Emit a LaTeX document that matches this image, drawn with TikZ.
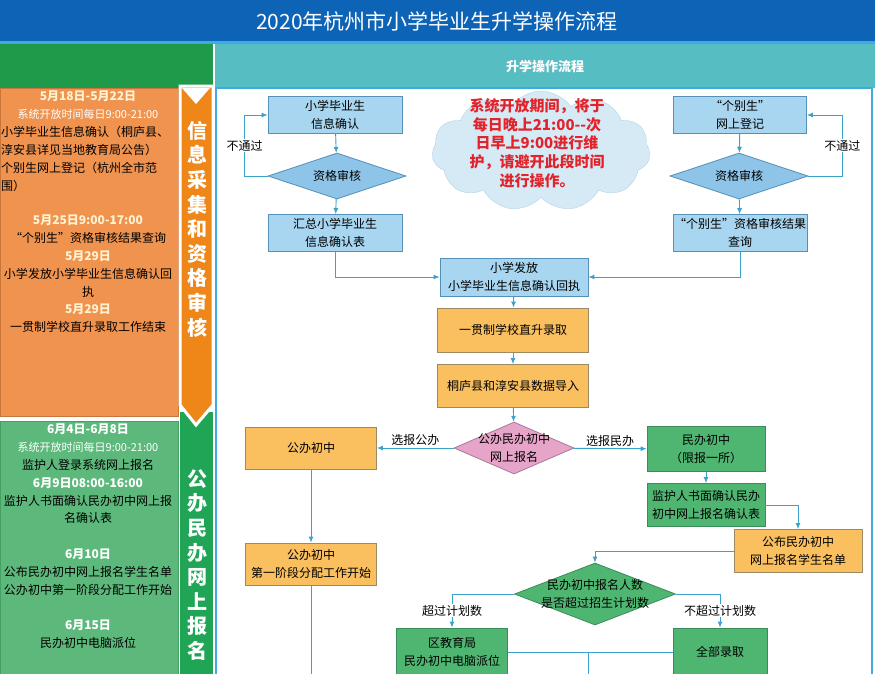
\documentclass[tikz,border=0pt]{standalone}
\usepackage{fontspec}
\setmainfont{Noto Sans CJK SC}
\usepackage{xcolor}
\usepackage{tikz}
\usetikzlibrary{shapes,arrows,arrows.meta,positioning}

\definecolor{titleblue}{HTML}{0D63B5}
\definecolor{headgreen}{HTML}{1F9A4A}
\definecolor{headteal}{HTML}{56BEC3}
\definecolor{frameblue}{HTML}{3FAADF}
\definecolor{panelorange}{HTML}{F0934F}
\definecolor{paneledgeo}{HTML}{C9763A}
\definecolor{striporange}{HTML}{EE8618}
\definecolor{panelgreen}{HTML}{5DB97B}
\definecolor{paneledgeg}{HTML}{46A064}
\definecolor{stripgreen}{HTML}{20A557}
\definecolor{datecol}{HTML}{FFF3D2}
\definecolor{flowline}{HTML}{3AA3CA}
\definecolor{bluefill}{HTML}{A8D5EF}
\definecolor{blueedge}{HTML}{5590B8}
\definecolor{diafill}{HTML}{8DC4E8}
\definecolor{orangefill}{HTML}{FAC05F}
\definecolor{orangeedge}{HTML}{9C8B62}
\definecolor{greenfill}{HTML}{4FB672}
\definecolor{greenedge}{HTML}{3A8C5A}
\definecolor{pinkfill}{HTML}{E6A4C8}
\definecolor{pinkedge}{HTML}{A9789A}
\definecolor{cloudfill}{HTML}{D6EAF6}
\definecolor{cloudedge}{HTML}{B4D3EA}
\definecolor{cloudred}{HTML}{E2232B}

% text of a diamond, kept from growing the shape
\newcommand{\dtext}[1]{\smash{\makebox[0pt]{\raisebox{-4pt}{\begin{tabular}{@{}c@{}}#1\end{tabular}}}}}

\begin{document}
\begin{tikzpicture}[x=1pt, y=-1pt,
    flowbox/.style={rectangle, align=center, inner sep=1pt, line width=0.8pt, font=\fontsize{12}{18}\selectfont},
    bluebox/.style={flowbox, draw=blueedge, fill=bluefill, minimum width=134pt, minimum height=37pt},
    orangebox/.style={flowbox, draw=orangeedge, fill=orangefill},
    greenbox/.style={flowbox, draw=greenedge, fill=greenfill},
    flowdia/.style={diamond, inner sep=0pt, line width=0.8pt, font=\fontsize{12}{18}\selectfont},
    bluedia/.style={flowdia, draw=blueedge, fill=diafill, minimum width=138pt, minimum height=46pt},
    pinkdia/.style={flowdia, draw=pinkedge, fill=pinkfill, minimum width=120pt, minimum height=52pt},
    greendia/.style={flowdia, draw=greenedge, fill=greenfill, minimum width=161pt, minimum height=62pt},
    flowarrow/.style={draw=flowline, line width=0.9pt, -{Latex[length=6pt,width=5pt]}},
    flowlink/.style={draw=flowline, line width=0.9pt},
    passlabel/.style={fill=white, inner sep=1pt, font=\fontsize{12}{14}\selectfont},
    choicelabel/.style={inner sep=2pt, font=\fontsize{12}{14}\selectfont},
    sidetext/.style={align=center, inner sep=0pt, font=\fontsize{12}{17.8}\selectfont},
    striptext/.style={align=center, inner sep=0pt, text=white, font=\bfseries\fontsize{20}{24.6}\selectfont}
]

\useasboundingbox (0,0) rectangle (875,673);
\clip (0,0) rectangle (875,673);

% title and header row
\fill[titleblue] (0,0) rectangle (875,41);
\fill[frameblue] (0,41) rectangle (875,44);
\fill[headgreen] (0,44) rectangle (213,88);
\fill[headteal] (215,44) rectangle (875,88);
\draw[frameblue, line width=2pt, fill=white] (216,88) rectangle (872,690);
\node[text=white, font=\fontsize{21}{24}\selectfont] (title) at (437,21) {2020年杭州市小学毕业生升学操作流程};
\node[text=white, font=\bfseries\fontsize{13}{15}\selectfont] (flow_head) at (545,67) {升学操作流程};

% left column
\draw[fill=panelorange, draw=paneledgeo] (0,88) rectangle (178,416);
\draw[fill=panelgreen, draw=paneledgeg] (0,421) rectangle (178,690);
\fill[stripgreen] (180,412) rectangle (213,690);
\draw[fill=striporange, draw=white, line width=3pt] (180,86) -- (213,86) -- (213,405) -- (196,425) -- (180,405) -- cycle;
\fill[white] (182,88) -- (210,88) -- (196,104) -- cycle;
\node[striptext] (strip_info) at (197,229) {信\\息\\采\\集\\和\\资\\格\\审\\核};
\node[striptext] (strip_sign) at (197,565) {公\\办\\民\\办\\网\\上\\报\\名};

\node[sidetext] (info_dates) at (88,105) {{\bfseries\color{datecol}5月18日-5月22日}\\{\color{white}\fontsize{11}{17.8}\selectfont 系统开放时间每日9:00-21:00}};
\node[sidetext, align=left, anchor=west] (info_items) at (1,159) {小学毕业生信息确认（桐庐县、\\淳安县详见当地教育局公告）\\个别生网上登记（杭州全市范\\围）};
\node[sidetext] (info_more) at (88,274) {{\bfseries\color{datecol}5月25日9:00-17:00}\\“个别生”资格审核结果查询\\{\bfseries\color{datecol}5月29日}\\小学发放小学毕业生信息确认回\\执\\{\bfseries\color{datecol}5月29日}\\一贯制学校直升录取工作结束};

\node[sidetext] (sign_dates) at (88,474) {{\bfseries\color{white}6月4日-6月8日}\\{\color{white}\fontsize{11}{17.8}\selectfont 系统开放时间每日9:00-21:00}\\监护人登录系统网上报名\\{\bfseries\color{white}6月9日08:00-16:00}\\监护人书面确认民办初中网上报\\名确认表};
\node[sidetext] (sign_list) at (88,572) {{\bfseries\color{white}6月10日}\\公布民办初中网上报名学生名单\\公办初中第一阶段分配工作开始};
\node[sidetext] (sign_lottery) at (88,634) {{\bfseries\color{white}6月15日}\\民办初中电脑派位};

% notice cloud
\node[cloud, cloud puffs=11, cloud puff arc=110, aspect=1.85, draw=cloudedge, fill=cloudfill, minimum width=218pt, minimum height=120pt, inner sep=0pt] (notice_cloud) at (541,151) {};
\node[align=center, text=cloudred, font=\bfseries\fontsize{15}{18.7}\selectfont] (notice) at (537,143) {系统开放期间，将于\\每日晚上21:00-{}-次\\日早上9:00进行维\\护，请避开此段时间\\进行操作。};

% flow chart
\node[bluebox] (grad_confirm) at (335,115) {小学毕业生\\信息确认};
\node[bluedia] (grad_check) at (337,176) {\dtext{资格审核}};
\node[bluebox] (grad_table) at (335,233) {汇总小学毕业生\\信息确认表};
\node[bluebox, minimum width=133pt] (special_reg) at (740,115) {“个别生”\\网上登记};
\node[bluedia] (special_check) at (739,176) {\dtext{资格审核}};
\node[bluebox, minimum width=133pt] (special_result) at (740,233) {“个别生”资格审核结果\\查询};
\node[bluebox, minimum width=148pt, minimum height=38pt] (receipt) at (514,277) {小学发放\\小学毕业生信息确认回执};
\node[orangebox, minimum width=151pt, minimum height=44pt] (direct_admit) at (513,330) {一贯制学校直升录取};
\node[orangebox, minimum width=151pt, minimum height=43pt] (data_import) at (513,386) {桐庐县和淳安县数据导入};
\node[pinkdia] (online_sign) at (514,448) {\dtext{公办民办初中\\网上报名}};
\node[orangebox, minimum width=131pt, minimum height=42pt] (public_school) at (311,448) {公办初中};
\node[greenbox, minimum width=118pt, minimum height=45pt] (private_school) at (706,449) {民办初中\\（限报一所）};
\node[greenbox, minimum width=118pt, minimum height=43pt] (guardian_confirm) at (706,505) {监护人书面确认民办\\初中网上报名确认表};
\node[orangebox, minimum width=128pt, minimum height=43pt] (publish_list) at (798,551) {公布民办初中\\网上报名学生名单};
\node[orangebox, minimum width=131pt, minimum height=42pt] (public_stage) at (311,564) {公办初中\\第一阶段分配工作开始};
\node[greendia] (over_quota) at (595,594) {\dtext{民办初中报名人数\\是否超过招生计划数}};
\node[greenbox, minimum width=111pt, minimum height=48pt] (lottery) at (452,652) {区教育局\\民办初中电脑派位};
\node[greenbox, minimum width=94pt, minimum height=48pt] (admit_all) at (720,652) {全部录取};

\draw[flowarrow] (grad_confirm) -- (grad_check);
\draw[flowarrow] (grad_check) -- (grad_table);
\draw[flowarrow] (grad_check.west) -- ++(-23,0) |- node[passlabel, pos=0.25] (fail_left) {不通过} (grad_confirm.west);
\draw[flowarrow] (special_reg) -- (special_check);
\draw[flowarrow] (special_check) -- (special_result);
\draw[flowarrow] (special_check.east) -- ++(34,0) |- node[passlabel, pos=0.25] (fail_right) {不通过} (special_reg.east);
\draw[flowarrow] (grad_table.south) |- (receipt.west);
\draw[flowarrow] (special_result.south) |- (receipt.east);
\draw[flowarrow] (receipt) -- (direct_admit);
\draw[flowarrow] (direct_admit) -- (data_import);
\draw[flowarrow] (data_import) -- (online_sign);
\draw[flowarrow] (online_sign) -- node[choicelabel, above] (pick_public) {选报公办} (public_school);
\draw[flowarrow] (online_sign) -- node[choicelabel, above] (pick_private) {选报民办} (private_school);
\draw[flowarrow] (public_school) -- (public_stage);
\draw[flowarrow] (private_school) -- (guardian_confirm);
\draw[flowarrow] (guardian_confirm.east) -| (publish_list.north);
\draw[flowarrow] (publish_list.west) -| (over_quota.north);
\draw[flowarrow] (over_quota.west) -| node[passlabel, pos=0.75] (over_yes) {超过计划数} (lottery.north);
\draw[flowarrow] (over_quota.east) -| node[passlabel, pos=0.75] (over_no) {不超过计划数} (admit_all.north);
\draw[flowlink] (lottery.east) -- (admit_all.west);
\coordinate (merge) at (588,652);
\coordinate (merge_end) at (588,680);
\coordinate (public_end) at (311,680);
\draw[flowlink] (merge) -- (merge_end);
\draw[flowlink] (public_stage) -- (public_end);

\end{tikzpicture}
\end{document}
